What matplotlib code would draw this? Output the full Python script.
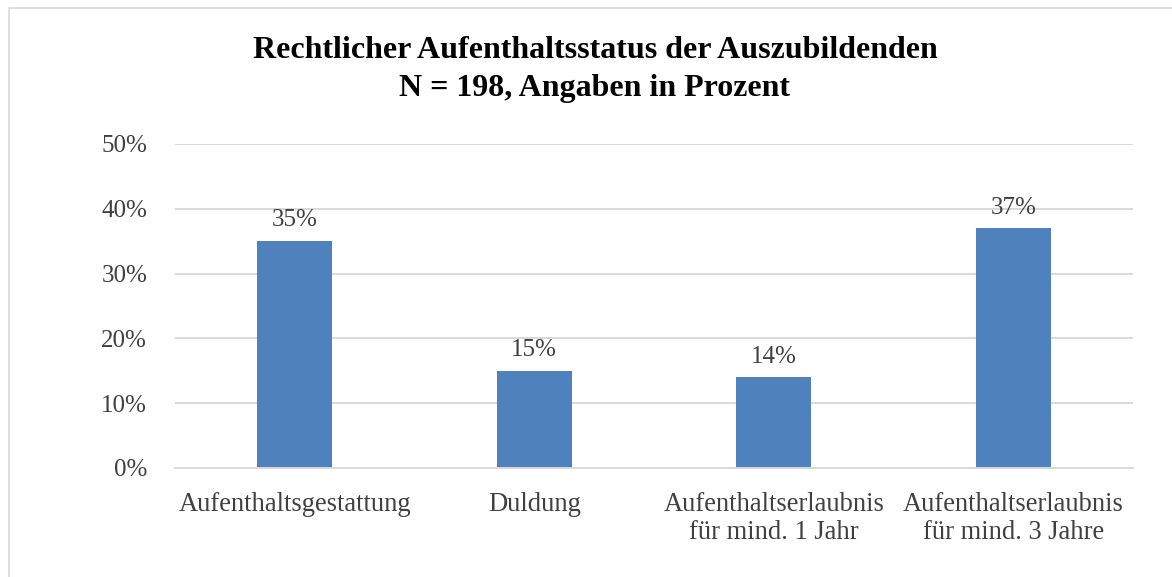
import numpy as np
import matplotlib

matplotlib.use("Agg")
import matplotlib.pyplot as plt
from matplotlib.patches import Rectangle
from matplotlib.ticker import PercentFormatter

# ---- data ----------------------------------------------------------------- #
CATEGORIES = [
    "Aufenthaltsgestattung",
    "Duldung",
    "Aufenthaltserlaubnis\nfür mind. 1 Jahr",
    "Aufenthaltserlaubnis\nfür mind. 3 Jahre",
]
SHARES = [35, 15, 14, 37]          # percent
Y_TICKS = [0, 10, 20, 30, 40, 50]
TITLE_LINES = ["Rechtlicher Aufenthaltsstatus der Auszubildenden",
               "N = 198, Angaben in Prozent"]

# ---- style ---------------------------------------------------------------- #
BAR = "#4f81bd"
GRID = "#d9d9d9"
TEXT = "#404040"
W, H = 1172, 577

plt.rcParams.update({
    "font.family": ["Liberation Serif", "DejaVu Serif"],
    "font.size": 18,
})

fig = plt.figure(figsize=(W / 100, H / 100), dpi=100)
ax = fig.add_axes([175 / W, 1 - 468 / H, (1133 - 175) / W, (468 - 144) / H])

x = np.arange(len(CATEGORIES))
bars = ax.bar(x, SHARES, width=0.313, color=BAR, zorder=2)
for rect, value in zip(bars, SHARES):
    ax.annotate(f"{value}%", (rect.get_x() + rect.get_width() / 2, value),
                textcoords="offset points", xytext=(0, 7), ha="center",
                va="bottom", color=TEXT, fontsize=18)

ax.set_xlim(-0.5, len(CATEGORIES) - 0.5)
ax.set_ylim(0, 50)
ax.set_yticks(Y_TICKS)
ax.yaxis.set_major_formatter(PercentFormatter(decimals=0))
ax.set_xticks(x)
ax.set_xticklabels(CATEGORIES, linespacing=1.2, fontsize=19.1)
ax.tick_params(axis="both", length=0, colors=TEXT)
ax.tick_params(axis="y", pad=20, labelsize=18)
ax.tick_params(axis="x", pad=17)
ax.grid(axis="y", color=GRID, lw=1.4, zorder=0)
ax.set_axisbelow(True)
for side in ("top", "right", "left"):
    ax.spines[side].set_visible(False)
ax.spines["bottom"].set_color(GRID)
ax.spines["bottom"].set_linewidth(1.4)

# two-line title, placed by baseline
for line, baseline in zip(TITLE_LINES, (58, 96)):
    fig.text(595 / W, 1 - baseline / H, line, ha="center", va="baseline",
             fontsize=23, fontweight="bold")

# chart frame (right and bottom edges lie outside the crop)
fig.patches.append(Rectangle((8.5 / W, -0.1), 1.2, 1 - 7.5 / H + 0.1,
                             transform=fig.transFigure, fill=False,
                             edgecolor=GRID, lw=1.2))

fig.savefig("out.png", dpi=100)
